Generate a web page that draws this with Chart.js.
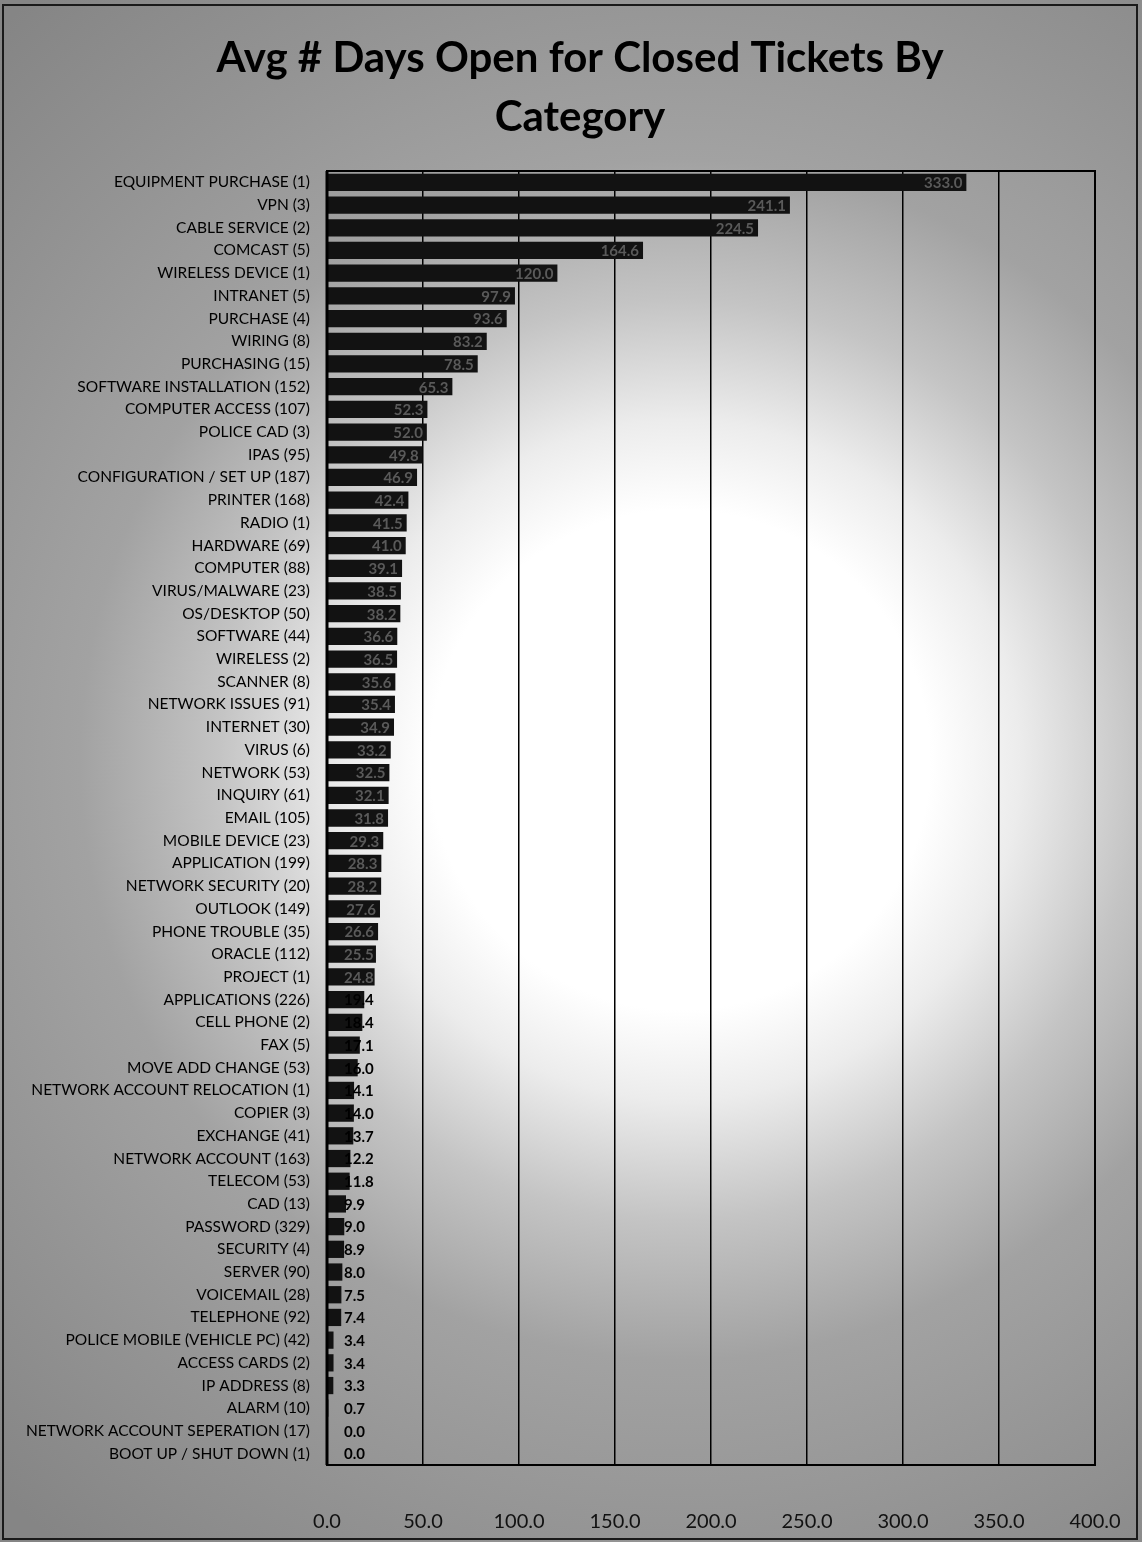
<!DOCTYPE html>
<html>
<head>
<meta charset="utf-8">
<script src="https://cdn.jsdelivr.net/npm/chart.js@4.4.0/dist/chart.umd.min.js"></script>
<style>
  html, body { margin: 0; padding: 0; }
  body {
    width: 1142px; height: 1542px; overflow: hidden; position: relative;
    background: radial-gradient(circle at 680px 760px, #ffffff 0px, #ffffff 250px, #ececec 340px, #c4c4c4 460px, #a2a2a2 600px, #939393 800px, #858585 1000px);
  }
  #wrap { position: absolute; left: 0; top: 0; width: 1142px; height: 1542px; }
  #frame { position: absolute; left: 2px; top: 4px; width: 1136px; height: 1536px; border: 2px solid #1a1a1a; box-sizing: border-box; pointer-events: none; }
</style>
</head>
<body>
<div id="wrap"><canvas id="c" width="1142" height="1542"></canvas></div>
<div id="frame"></div>
<script>
const titleLines = ["Avg # Days Open for Closed Tickets By", "Category"];

const categories = [
  "EQUIPMENT PURCHASE (1)", "VPN (3)", "CABLE SERVICE (2)", "COMCAST (5)",
  "WIRELESS DEVICE (1)", "INTRANET (5)", "PURCHASE (4)", "WIRING (8)",
  "PURCHASING (15)", "SOFTWARE INSTALLATION (152)", "COMPUTER ACCESS (107)",
  "POLICE CAD (3)", "IPAS (95)", "CONFIGURATION / SET UP (187)", "PRINTER (168)",
  "RADIO (1)", "HARDWARE (69)", "COMPUTER (88)", "VIRUS/MALWARE (23)",
  "OS/DESKTOP (50)", "SOFTWARE (44)", "WIRELESS (2)", "SCANNER (8)",
  "NETWORK ISSUES (91)", "INTERNET (30)", "VIRUS (6)", "NETWORK (53)",
  "INQUIRY (61)", "EMAIL (105)", "MOBILE DEVICE (23)", "APPLICATION (199)",
  "NETWORK SECURITY (20)", "OUTLOOK (149)", "PHONE TROUBLE (35)", "ORACLE (112)",
  "PROJECT (1)", "APPLICATIONS (226)", "CELL PHONE (2)", "FAX (5)",
  "MOVE ADD CHANGE (53)", "NETWORK ACCOUNT RELOCATION (1)", "COPIER (3)",
  "EXCHANGE (41)", "NETWORK ACCOUNT (163)", "TELECOM (53)", "CAD (13)",
  "PASSWORD (329)", "SECURITY (4)", "SERVER (90)", "VOICEMAIL (28)",
  "TELEPHONE (92)", "POLICE MOBILE (VEHICLE PC) (42)", "ACCESS CARDS (2)",
  "IP ADDRESS (8)", "ALARM (10)", "NETWORK ACCOUNT SEPERATION (17)",
  "BOOT UP / SHUT DOWN (1)"
];

const avgDaysOpen = [
  333.0, 241.1, 224.5, 164.6, 120.0, 97.9, 93.6, 83.2, 78.5, 65.3,
  52.3, 52.0, 49.8, 46.9, 42.4, 41.5, 41.0, 39.1, 38.5, 38.2,
  36.6, 36.5, 35.6, 35.4, 34.9, 33.2, 32.5, 32.1, 31.8, 29.3,
  28.3, 28.2, 27.6, 26.6, 25.5, 24.8, 19.4, 18.4, 17.1, 16.0,
  14.1, 14.0, 13.7, 12.2, 11.8, 9.9, 9.0, 8.9, 8.0, 7.5,
  7.4, 3.4, 3.4, 3.3, 0.7, 0.0, 0.0
];

const xTickValues = [0, 50, 100, 150, 200, 250, 300, 350, 400];

const FONT = "Lato, 'Open Sans', 'DejaVu Sans', sans-serif";

const chartTitle = {
  id: 'chartTitle',
  afterDraw(chart) {
    const ctx = chart.ctx;
    ctx.save();
    ctx.fillStyle = '#000';
    ctx.font = "bold 42px " + FONT;
    ctx.textAlign = 'center';
    ctx.textBaseline = 'alphabetic';
    ctx.fillText(titleLines[0], 580, 72);
    ctx.fillText(titleLines[1], 580, 131);
    ctx.restore();
  }
};

const plotFrame = {
  id: 'plotFrame',
  afterDraw(chart) {
    const a = chart.chartArea, ctx = chart.ctx;
    ctx.save();
    ctx.strokeStyle = '#000';
    ctx.lineWidth = 2;
    ctx.strokeRect(a.left, a.top, a.right - a.left, a.bottom - a.top);
    ctx.lineWidth = 3;
    ctx.beginPath();
    ctx.moveTo(a.left, a.top); ctx.lineTo(a.left, a.bottom);
    ctx.stroke();
    ctx.restore();
  }
};

const barLabels = {
  id: 'barLabels',
  afterDatasetsDraw(chart) {
    const ctx = chart.ctx;
    const meta = chart.getDatasetMeta(0);
    const xs = chart.scales.x;
    const base = xs.getPixelForValue(0);
    const minLeft = base + 17;
    ctx.save();
    ctx.font = "bold 15px " + FONT;
    ctx.textBaseline = 'middle';
    ctx.textAlign = 'left';
    meta.data.forEach((bar, i) => {
      const txt = avgDaysOpen[i].toFixed(1);
      const w = ctx.measureText(txt).width;
      let right = Math.max(bar.x - 4, minLeft + w);
      const left = right - w;
      const inside = right <= bar.x;
      ctx.fillStyle = inside ? '#5a5a5a' : '#000';
      ctx.fillText(txt, left, bar.y + 1);
    });
    ctx.restore();
  }
};

new Chart(document.getElementById('c'), {
  type: 'bar',
  data: {
    labels: categories,
    datasets: [{
      data: avgDaysOpen,
      backgroundColor: '#121212',
      borderWidth: 0,
      categoryPercentage: 1.0,
      barPercentage: 0.76
    }]
  },
  options: {
    indexAxis: 'y',
    responsive: false,
    animation: false,
    devicePixelRatio: 1,
    layout: { padding: { left: 0, right: 47, top: 171, bottom: 4 } },
    plugins: {
      legend: { display: false },
      tooltip: { enabled: false },
      title: { display: false }
    },
    scales: {
      x: {
        min: 0, max: 400,
        afterBuildTicks(scale) { scale.ticks = xTickValues.map(v => ({ value: v })); },
        afterFit(scale) { scale.height = 73; },
        grid: { color: '#000', lineWidth: 1.5, drawTicks: true, tickLength: 41, tickColor: 'rgba(0,0,0,0)' },
        border: { display: false },
        ticks: {
          color: '#111',
          padding: 4,
          font: { family: FONT, size: 20 },
          callback: v => Number(v).toFixed(1),
          maxRotation: 0
        }
      },
      y: {
        afterFit(scale) { scale.width = 327; },
        grid: { display: false, drawTicks: false },
        border: { display: false },
        ticks: {
          autoSkip: false,
          color: '#000',
          padding: 17,
          font: { family: FONT, size: 15.5 }
        }
      }
    }
  },
  plugins: [plotFrame, barLabels, chartTitle]
});
</script>
</body>
</html>
